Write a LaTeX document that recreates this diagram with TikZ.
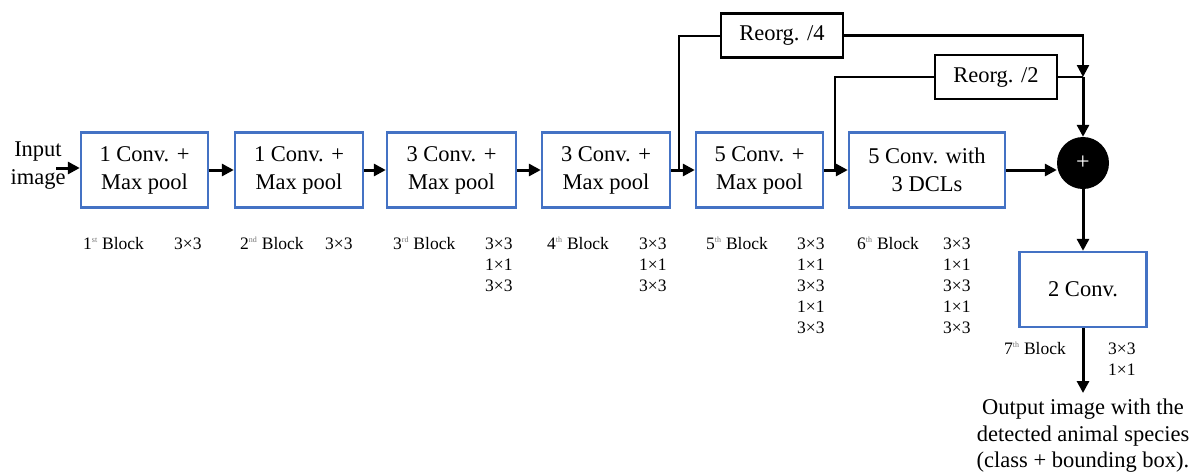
\documentclass[tikz,border=0pt]{standalone}
\usepackage{fontspec}
\setmainfont{Liberation Serif}
\usetikzlibrary{arrows.meta,calc}
\definecolor{boxblue}{RGB}{68,114,196}
\newcommand{\ord}[1]{\textsuperscript{\fontsize{8}{8}\selectfont\color{black!55}#1}}

\begin{document}
\begin{tikzpicture}[x=1pt,y=-1pt,
  big/.style={font=\fontsize{22.5}{28}\selectfont},
  stage/.style={draw=boxblue,line width=2.4pt,minimum height=75pt,align=center,inner sep=0pt,big},
  reorg/.style={draw=black,line width=2.2pt,minimum width=122pt,minimum height=44pt,inner sep=0pt,big},
  tip/.style={-{Triangle[length=12pt,width=12pt]}},
  flow/.style={line width=3pt,tip},
  link/.style={line width=2pt},
  lbl/.style={font=\fontsize{17.5}{21}\selectfont,anchor=base west,inner sep=0pt},
]
\useasboundingbox (0,0) rectangle (1198,474);

% main stages
\node[stage,minimum width=127pt] (b1) at (144.5,170) {1 Conv. +\\Max pool};
\node[stage,minimum width=128pt] (b2) at (299,170) {1 Conv. +\\Max pool};
\node[stage,minimum width=129pt] (b3) at (451.5,170) {3 Conv. +\\Max pool};
\node[stage,minimum width=128pt] (b4) at (606,170) {3 Conv. +\\Max pool};
\node[stage,minimum width=127pt] (b5) at (759.5,170) {5 Conv. +\\Max pool};
\node[stage,minimum width=156pt] (b6) at (927,170) {5 Conv. with\\3 DCLs};
\node[stage,minimum width=127pt] (b7) at (1083,289.5) {2 Conv.};

% reorganisation branches and merge
\node[reorg] (r4) at (782,35.5) {Reorg. /4};
\node[reorg] (r2) at (996,77) {Reorg. /2};
\node[circle,fill=black,minimum size=52pt,inner sep=0pt,text=white,
      font=\fontsize{24}{24}\selectfont] (plus) at (1083,163) {+};

% input / output text
\node[align=center,inner sep=0pt,font=\fontsize{22.5}{28}\selectfont] (in) at (38,166) {Input\\image};
\node[align=center,anchor=north,inner xsep=0pt,inner ysep=6pt,
      font=\fontsize{22.5}{26.5}\selectfont] (out) at (1083,393)
      {Output image with the\\detected animal species\\(class + bounding box).};

% junctions
\coordinate (src) at (56,168);
\coordinate (j45) at (679,170);
\coordinate (j56) at (835,170);
\coordinate (jr) at (1083,77);

% main flow
\draw[flow] (src) -- (b1.west |- src);
\draw[flow] (b1.east) -- (b2.west);
\draw[flow] (b2.east) -- (b3.west);
\draw[flow] (b3.east) -- (b4.west);
\draw[flow] (b4.east) -- (b5.west);
\draw[flow] (b5.east) -- (b6.west);
\draw[flow] (b6.east) -- (b6.east -| plus.west);
\draw[flow] (plus.south) -- (b7.north);
\draw[flow] (b7.south) -- (out.north);

% skip connections
\draw[link] (j45) |- (r4.west);
\draw[link,line width=2.4pt,tip] (r4.east) -| (jr);
\draw[link] (j56) |- (r2.west);
\draw[link] (r2.east) -- (jr);
\draw[flow] (jr) -- (plus.north);

% block labels and kernel sizes
\node[lbl] (l1) at (83,249) {1\ord{st} Block};
\node[lbl] (k1-1) at (174,249) {3×3};
\node[lbl] (l2) at (240,249) {2\ord{nd} Block};
\node[lbl] (k2-1) at (325,249) {3×3};
\node[lbl] (l3) at (393,249) {3\ord{rd} Block};
\foreach \t [count=\i] in {3×3,1×1,3×3}
  \node[lbl] (k3-\i) at (485,{249+21*(\i-1)}) {\t};
\node[lbl] (l4) at (547,249) {4\ord{th} Block};
\foreach \t [count=\i] in {3×3,1×1,3×3}
  \node[lbl] (k4-\i) at (639,{249+21*(\i-1)}) {\t};
\node[lbl] (l5) at (706,249) {5\ord{th} Block};
\foreach \t [count=\i] in {3×3,1×1,3×3,1×1,3×3}
  \node[lbl] (k5-\i) at (797,{249+21*(\i-1)}) {\t};
\node[lbl] (l6) at (857,249) {6\ord{th} Block};
\foreach \t [count=\i] in {3×3,1×1,3×3,1×1,3×3}
  \node[lbl] (k6-\i) at (943,{249+21*(\i-1)}) {\t};
\node[lbl] (l7) at (1004,354) {7\ord{th} Block};
\foreach \t [count=\i] in {3×3,1×1}
  \node[lbl] (k7-\i) at (1108,{354+21*(\i-1)}) {\t};
\end{tikzpicture}
\end{document}
